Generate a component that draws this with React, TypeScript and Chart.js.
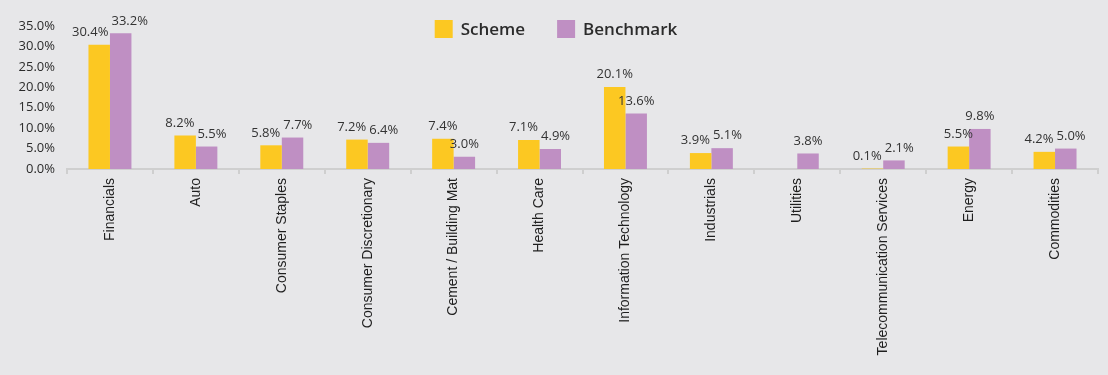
import React, { useEffect, useRef } from "react";
import { Chart, registerables } from "chart.js";

Chart.register(...registerables);

const categories = [
  "Financials",
  "Auto",
  "Consumer Staples",
  "Consumer Discretionary",
  "Cement / Building Mat",
  "Health Care",
  "Information Technology",
  "Industrials",
  "Utilities",
  "Telecommunication Services",
  "Energy",
  "Commodities",
];
const schemeValues: (number | null)[] = [30.4, 8.2, 5.8, 7.2, 7.4, 7.1, 20.1, 3.9, null, 0.1, 5.5, 4.2];
const benchmarkValues: (number | null)[] = [33.2, 5.5, 7.7, 6.4, 3.0, 4.9, 13.6, 5.1, 3.8, 2.1, 9.8, 5.0];
const seriesNames = ["Scheme", "Benchmark"];
const seriesColors = ["#FCC822", "#BF8FC3"];
const yMin = 0;
const yMax = 35;
const yStep = 5;

const BG = "#E7E7E9";
const NUM_FONT = "'Open Sans', sans-serif";
const CAT_FONT = "'Liberation Sans', Arial, sans-serif";
const TEXT = "#2b2b2b";

const bgPlugin = {
  id: "bg",
  beforeDraw(chart: any) {
    const { ctx, width, height } = chart;
    ctx.save();
    ctx.fillStyle = BG;
    ctx.fillRect(0, 0, width, height);
    ctx.restore();
  },
};

const legendPlugin = {
  id: "customLegend",
  afterDraw(chart: any) {
    const { ctx } = chart;
    ctx.save();
    ctx.font = `600 17px ${NUM_FONT}`;
    const box = 18;
    const gapText = 8;
    const gapItem = 32;
    const widths = seriesNames.map((n) => ctx.measureText(n).width);
    const total = widths.reduce((a, w) => a + box + gapText + w, 0) + gapItem * (seriesNames.length - 1);
    let x = 556 - total / 2;
    const yTop = 20;
    seriesNames.forEach((n, i) => {
      ctx.fillStyle = seriesColors[i];
      ctx.fillRect(x, yTop, box, box);
      ctx.fillStyle = TEXT;
      ctx.textBaseline = "middle";
      ctx.textAlign = "left";
      ctx.fillText(n, x + box + gapText, yTop + box / 2 + 1);
      x += box + gapText + widths[i] + gapItem;
    });
    ctx.restore();
  },
};

const labelPlugin = {
  id: "valueLabels",
  afterDatasetsDraw(chart: any) {
    const { ctx } = chart;
    ctx.save();
    ctx.font = `13px ${NUM_FONT}`;
    ctx.fillStyle = "#333333";
    ctx.textAlign = "center";
    ctx.textBaseline = "bottom";
    const n = categories.length;
    for (let i = 0; i < n; i++) {
      const items: any[] = [];
      chart.data.datasets.forEach((ds: any, di: number) => {
        const v = ds.data[i];
        if (v === null || v === undefined) return;
        const el = chart.getDatasetMeta(di).data[i];
        const text = v.toFixed(1) + "%";
        const w = ctx.measureText(text).width;
        items.push({ text, x: el.x, y: el.y - 6, w });
      });
      if (items.length === 2) {
        const [a, b] = items;
        const overlapX = a.x + a.w / 2 + 3 - (b.x - b.w / 2);
        const overlapY = Math.abs(a.y - b.y) < 14;
        if (overlapX > 0 && overlapY) {
          a.x -= overlapX / 2;
          b.x += overlapX / 2;
        }
      }
      items.forEach((it) => ctx.fillText(it.text, it.x, it.y));
    }
    ctx.restore();
  },
};

export default function App() {
  const ref = useRef<HTMLCanvasElement | null>(null);
  useEffect(() => {
    document.body.style.margin = "0";
    document.body.style.background = BG;
    const canvas = ref.current;
    if (!canvas) return;
    const chart = new Chart(canvas, {
      type: "bar",
      data: {
        labels: categories,
        datasets: [
          {
            label: seriesNames[0],
            data: schemeValues,
            backgroundColor: seriesColors[0],
            categoryPercentage: 0.5,
            barPercentage: 1.0,
          },
          {
            label: seriesNames[1],
            data: benchmarkValues,
            backgroundColor: seriesColors[1],
            categoryPercentage: 0.5,
            barPercentage: 1.0,
          },
        ],
      },
      options: {
        animation: false,
        responsive: false,
        maintainAspectRatio: false,
        layout: { padding: { top: 26, right: 10, left: 0, bottom: 0 } },
        plugins: {
          legend: { display: false },
          tooltip: { enabled: false },
        },
        scales: {
          x: {
            grid: {
              display: true,
              drawOnChartArea: false,
              drawTicks: true,
              tickLength: 5,
              color: "#CFCFCF",
              lineWidth: 2,
              offset: true,
            },
            border: { display: true, color: "#CFCFCF", width: 2 },
            ticks: {
              autoSkip: false,
              minRotation: 90,
              maxRotation: 90,
              padding: 4,
              color: "#1f1f1f",
              font: { family: CAT_FONT, size: 14 },
            },
            afterFit(scale: any) {
              scale.height = 206;
            },
          },
          y: {
            min: yMin,
            max: yMax,
            grid: { display: false },
            border: { display: false },
            ticks: {
              stepSize: yStep,
              color: TEXT,
              padding: 4,
              font: { family: NUM_FONT, size: 13 },
              callback: (v: any) => Number(v).toFixed(1) + "%",
            },
            afterFit(scale: any) {
              scale.width = 67;
            },
          },
        },
      },
      plugins: [bgPlugin, legendPlugin, labelPlugin],
    });
    return () => chart.destroy();
  }, []);
  return (
    <div style={{ width: 1108, height: 375, background: BG }}>
      <canvas ref={ref} width={1108} height={375} style={{ display: "block" }} />
    </div>
  );
}
